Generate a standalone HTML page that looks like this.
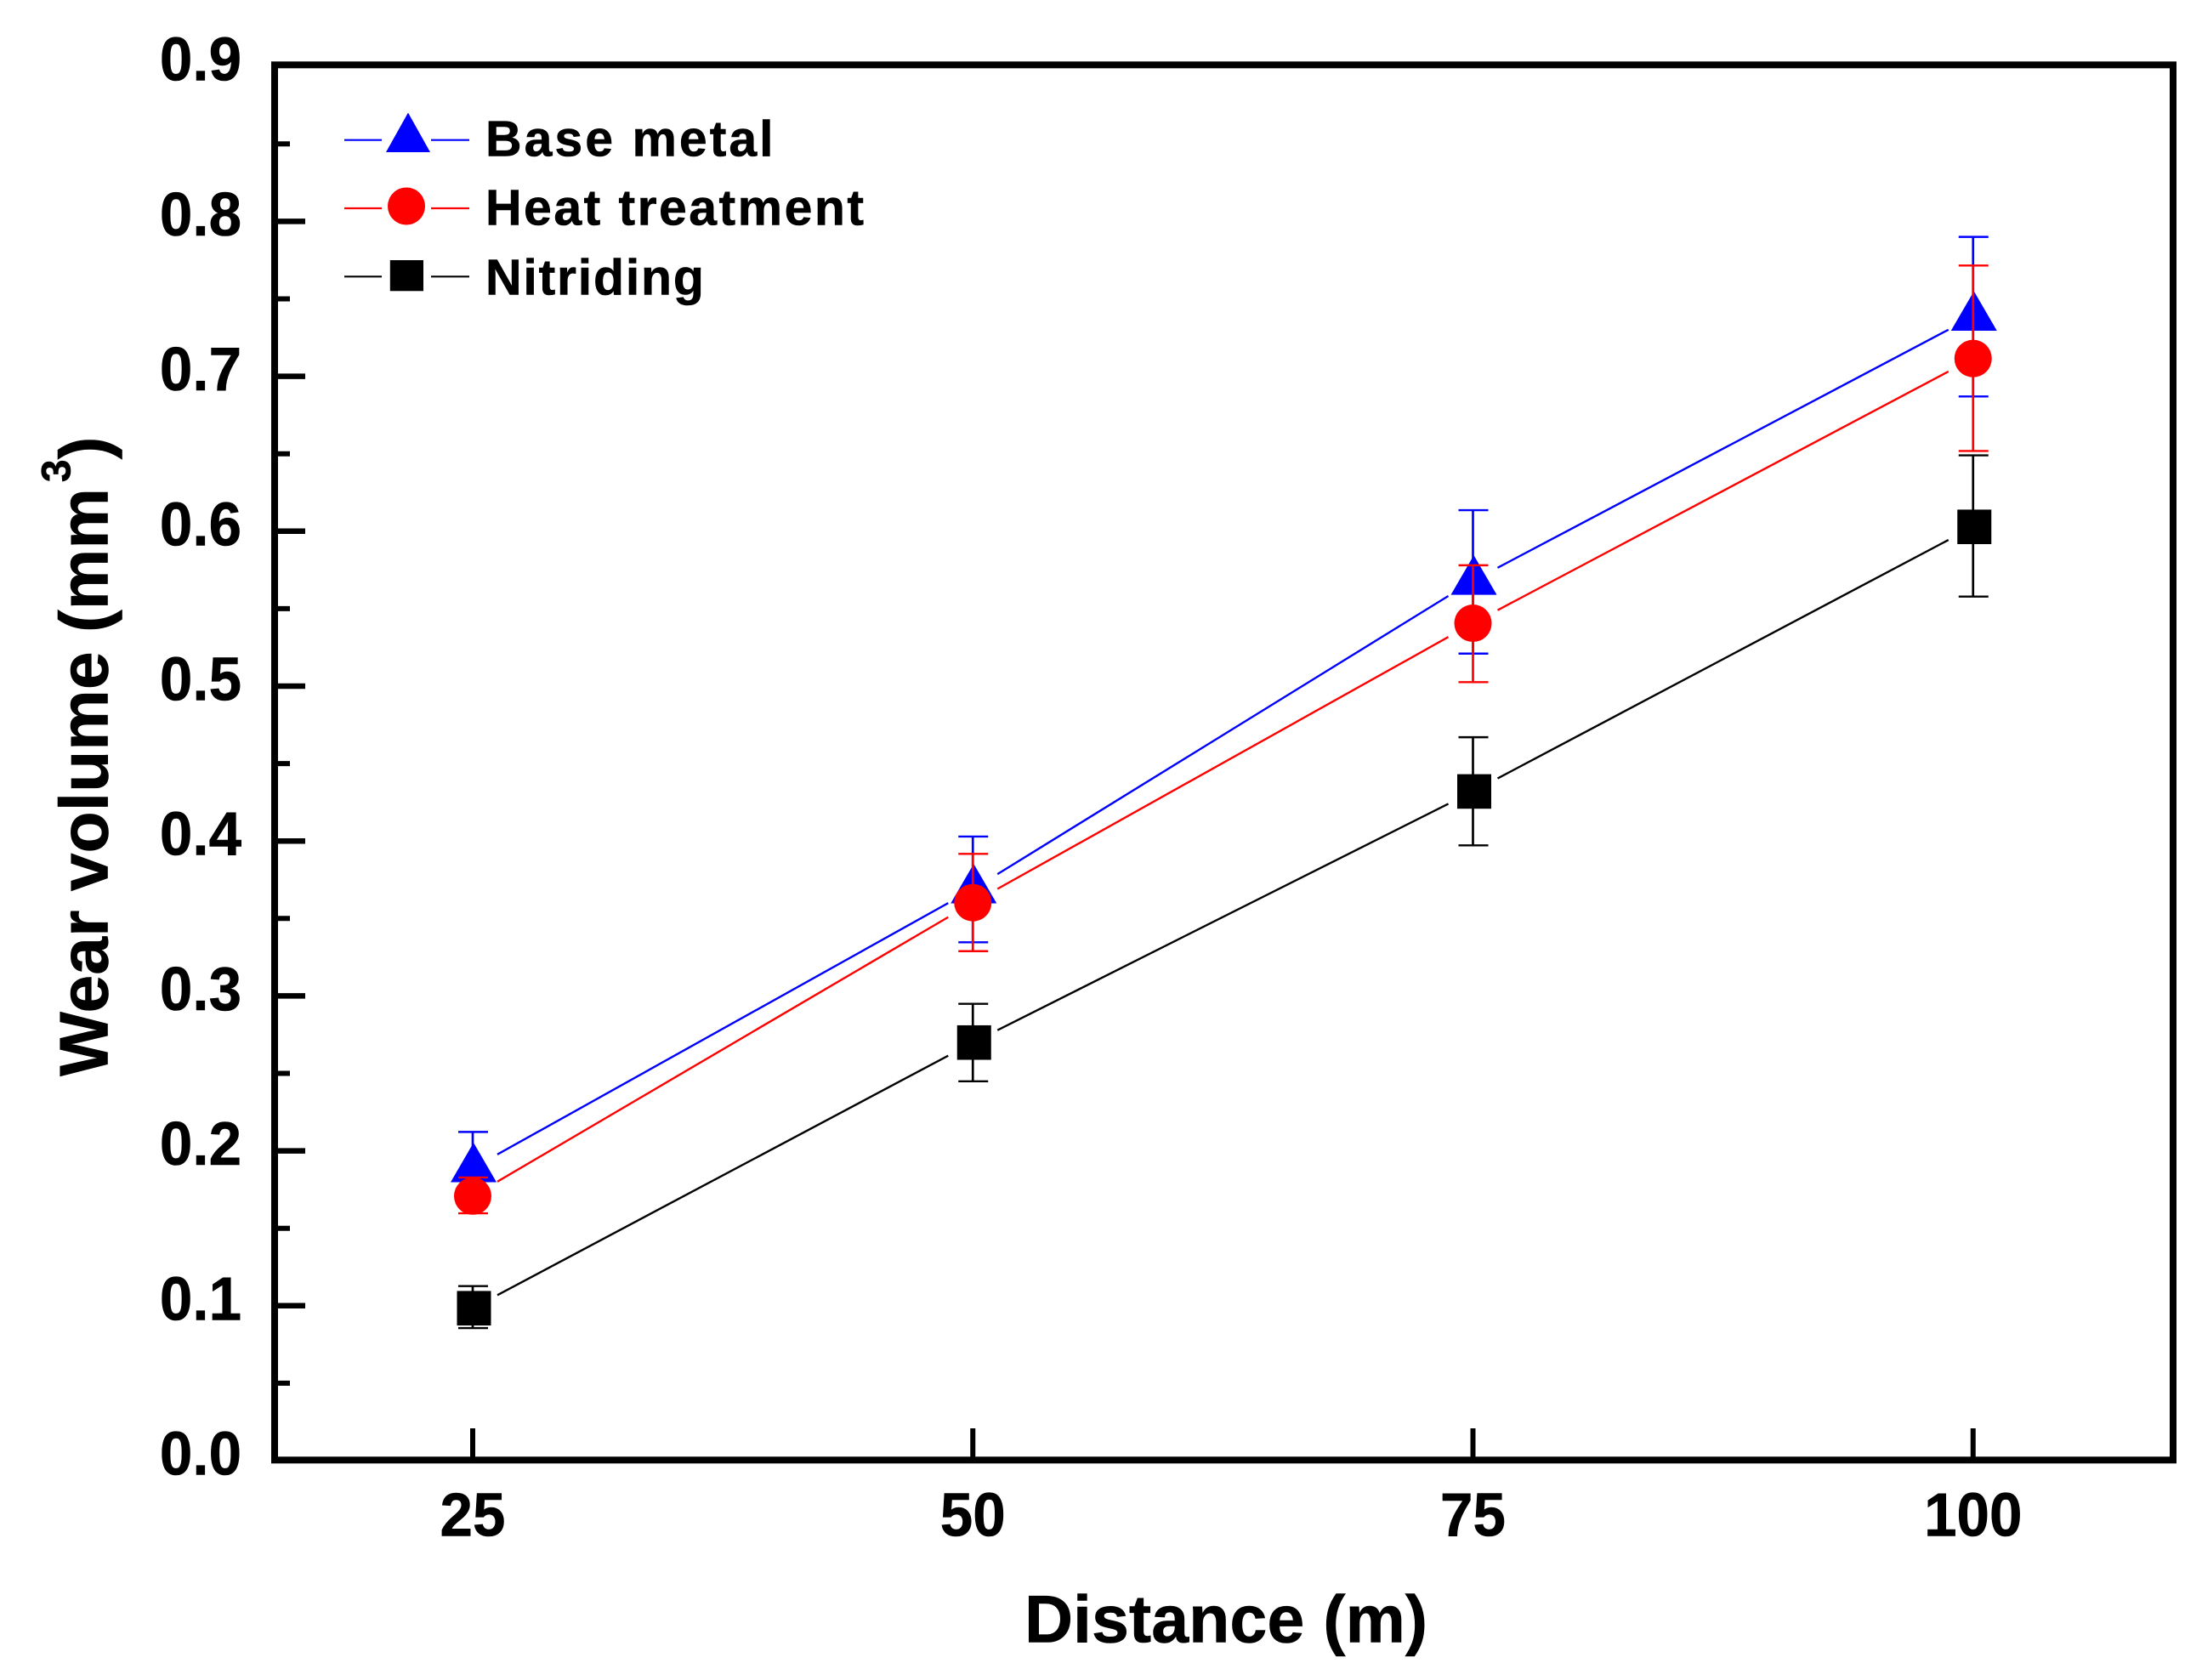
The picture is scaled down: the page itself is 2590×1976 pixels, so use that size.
<!DOCTYPE html>
<html lang="en">
<head>
<meta charset="utf-8">
<title>Wear volume vs distance</title>
<style>
html,body{margin:0;padding:0;background:#fff;}
svg{display:block;}
text{font-family:"Liberation Sans",Arial,sans-serif;font-weight:bold;fill:#000;stroke:#000;stroke-width:0.6;}
</style>
</head>
<body>
<svg id="chart" xmlns="http://www.w3.org/2000/svg" width="2590" height="1976" viewBox="0 0 2590 1976">
  <rect x="0" y="0" width="2590" height="1976" fill="#fff"/>
  <g id="ticks"></g>
  <g id="series"></g>
  <rect x="323" y="76.3" width="2233" height="1641" fill="none" stroke="#000" stroke-width="8"/>
  <g id="labels"></g>

  <text x="1205" y="1931.5" font-size="79">Distance (m)</text>
  <text transform="translate(126.7,1266) rotate(-90)" font-size="80.5">Wear volume (mm<tspan font-size="48" dx="7" dy="-44">3</tspan><tspan dy="44">)</tspan></text>

  <g>
    <g>
      <line x1="405" y1="164.7" x2="449" y2="164.7" stroke="#0000ff" stroke-width="2.2"/>
      <line x1="507" y1="164.7" x2="552" y2="164.7" stroke="#0000ff" stroke-width="2.2"/>
      <polygon points="480,132.5 506,179 454,179" fill="#0000ff"/>
      <text x="571" y="183.3" font-size="59" letter-spacing="3">Base metal</text>
    </g>
    <g>
      <line x1="405" y1="245" x2="449" y2="245" stroke="#ff0000" stroke-width="2.2"/>
      <line x1="507" y1="245" x2="552" y2="245" stroke="#ff0000" stroke-width="2.2"/>
      <circle cx="478" cy="242.5" r="22" fill="#ff0000"/>
      <text x="571" y="264.3" font-size="59" letter-spacing="2.45">Heat treatment</text>
    </g>
    <g>
      <line x1="405" y1="325.3" x2="449" y2="325.3" stroke="#000" stroke-width="2.2"/>
      <line x1="507" y1="325.3" x2="552" y2="325.3" stroke="#000" stroke-width="2.2"/>
      <rect x="458.8" y="306" width="39.2" height="36.3" fill="#000"/>
      <text x="571" y="346.7" font-size="59" letter-spacing="1.8">Nitriding</text>
    </g>
  </g>
</svg>
<script>
var distances = [25, 50, 75, 100];
var xTickValues = [25, 50, 75, 100];
var xTickLabels = ["25", "50", "75", "100"];
var yMajorTicks = [0.1, 0.2, 0.3, 0.4, 0.5, 0.6, 0.7, 0.8];
var yMinorTicks = [0.05, 0.15, 0.25, 0.35, 0.45, 0.55, 0.65, 0.75, 0.85];
var yLabelValues = [0, 0.1, 0.2, 0.3, 0.4, 0.5, 0.6, 0.7, 0.8, 0.9];
var yLabels = ["0.0", "0.1", "0.2", "0.3", "0.4", "0.5", "0.6", "0.7", "0.8", "0.9"];

var baseMetal = [0.1888, 0.3688, 0.568, 0.7385];
var baseMetalUpper = [0.2122, 0.4029, 0.6136, 0.79];
var baseMetalLower = [0.181, 0.3346, 0.521, 0.687];

var heatTreatment = [0.1708, 0.3602, 0.5406, 0.7115];
var heatTreatmentUpper = [0.1828, 0.3917, 0.578, 0.7715];
var heatTreatmentLower = [0.1597, 0.3289, 0.5026, 0.6518];

var nitriding = [0.0984, 0.2699, 0.432, 0.6028];
var nitridingUpper = [0.1127, 0.2949, 0.467, 0.649];
var nitridingLower = [0.0856, 0.2449, 0.3972, 0.5578];

var NS = "http://www.w3.org/2000/svg";

function xScale(d) { return 556 + (d - 25) * 23.53; }
function yScale(v) { return 1718 - v * 1822; }

function make(parent, tag, attrs) {
  var el = document.createElementNS(NS, tag);
  for (var k in attrs) { el.setAttribute(k, attrs[k]); }
  parent.appendChild(el);
  return el;
}

var ticksGroup = document.getElementById("ticks");
var labelsGroup = document.getElementById("labels");
var seriesGroup = document.getElementById("series");

yMajorTicks.forEach(function (v) {
  var t = make(ticksGroup, "line", { x1: 323, x2: 359, y1: yScale(v), y2: yScale(v), stroke: "#000", "stroke-width": 6.5 });
  
  
});
yMinorTicks.forEach(function (v) {
  var t = make(ticksGroup, "line", { x1: 323, x2: 341, y1: yScale(v), y2: yScale(v), stroke: "#000", "stroke-width": 6 });
  
  
});
xTickValues.forEach(function (d) {
  var t = make(ticksGroup, "line", { x1: xScale(d), x2: xScale(d), y1: 1717, y2: 1680, stroke: "#000", "stroke-width": 6 });
  
  
});

yLabelValues.forEach(function (v, i) {
  var t = make(labelsGroup, "text", { transform: "translate(284," + (yScale(v) + 16.5) + ") scale(0.96,1)", "font-size": 72, "text-anchor": "end" });
  t.textContent = yLabels[i];
  
  
});
xTickValues.forEach(function (d, i) {
  var t = make(labelsGroup, "text", { transform: "translate(" + xScale(d) + ",1806.7) scale(0.96,1)", "font-size": 72, "text-anchor": "middle" });
  t.textContent = xTickLabels[i];
  
  
});

function drawConnectors(group, values, color) {
  var gap = 29;
  for (var i = 0; i < values.length - 1; i++) {
    var x0 = xScale(distances[i]), x1 = xScale(distances[i + 1]);
    var y0 = yScale(values[i]), y1 = yScale(values[i + 1]);
    var slope = (y1 - y0) / (x1 - x0);
    var seg = make(group, "line", {
      x1: x0 + gap, y1: y0 + slope * gap,
      x2: x1 - gap, y2: y1 - slope * gap,
      stroke: color, "stroke-width": 2.4
    });
    
    
  }
}

function drawErrorBars(group, upper, lower, color) {
  distances.forEach(function (d, i) {
    var x = xScale(d), top = yScale(upper[i]), bottom = yScale(lower[i]);
    var stem = make(group, "line", { x1: x, x2: x, y1: top, y2: bottom, stroke: color, "stroke-width": 2.7 });
    
    
    var capTop = make(group, "line", { x1: x - 17, x2: x + 18, y1: top, y2: top, stroke: color, "stroke-width": 2.4 });
    
    
    var capBottom = make(group, "line", { x1: x - 17, x2: x + 18, y1: bottom, y2: bottom, stroke: color, "stroke-width": 2.4 });
    
    
  });
}

function drawTriangles(group, values, color) {
  values.forEach(function (v, i) {
    var x = xScale(distances[i]) + 1, y = yScale(v);
    var m = make(group, "polygon", {
      points: x + "," + (y - 30) + " " + (x + 27) + "," + (y + 16.5) + " " + (x - 27) + "," + (y + 16.5),
      fill: color
    });
    
    
  });
}

function drawCircles(group, values, color) {
  values.forEach(function (v, i) {
    var m = make(group, "circle", { cx: xScale(distances[i]), cy: yScale(v), r: 22, fill: color });
    
    
  });
}

function drawSquares(group, values, color) {
  values.forEach(function (v, i) {
    var m = make(group, "rect", { x: xScale(distances[i]) - 18.5, y: yScale(v) - 20.3, width: 40, height: 40.6, fill: color });
    
    
  });
}

var baseGroup = make(seriesGroup, "g", {});


drawConnectors(baseGroup, baseMetal, "#0000ff");
drawTriangles(baseGroup, baseMetal, "#0000ff");
drawErrorBars(baseGroup, baseMetalUpper, baseMetalLower, "#0000ff");

var heatGroup = make(seriesGroup, "g", {});


drawConnectors(heatGroup, heatTreatment, "#ff0000");
drawCircles(heatGroup, heatTreatment, "#ff0000");
drawErrorBars(heatGroup, heatTreatmentUpper, heatTreatmentLower, "#ff0000");

var nitridingGroup = make(seriesGroup, "g", {});


drawConnectors(nitridingGroup, nitriding, "#000");
drawSquares(nitridingGroup, nitriding, "#000");
drawErrorBars(nitridingGroup, nitridingUpper, nitridingLower, "#000");
</script>
</body>
</html>
